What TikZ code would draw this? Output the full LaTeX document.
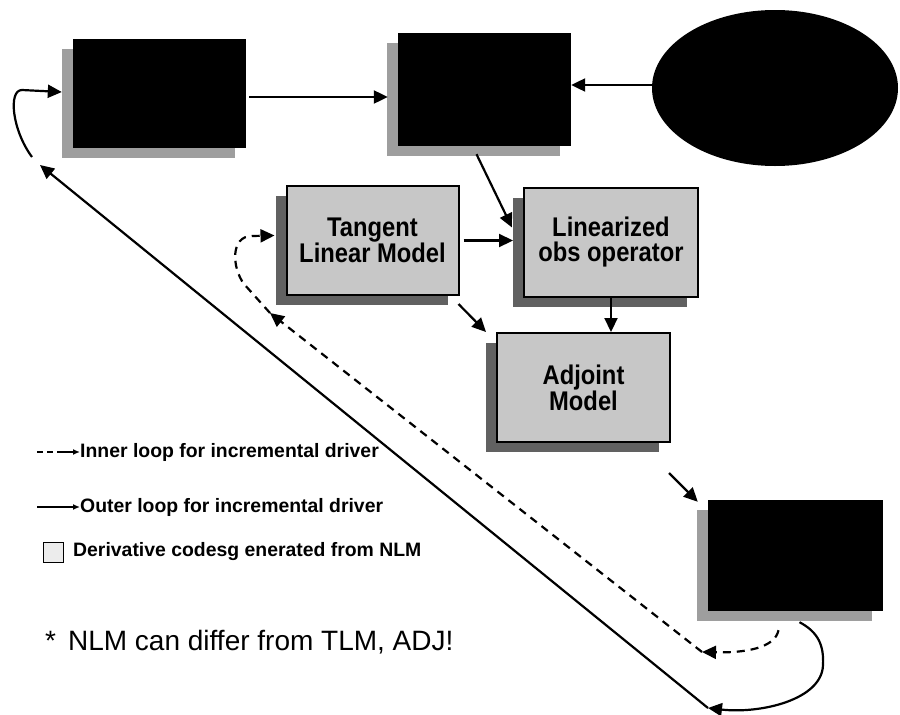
\documentclass[tikz,border=0pt]{standalone}
\usepackage{fontspec}
\setmainfont{Liberation Sans}
\newfontfamily\narrowbold{Liberation Sans}[FakeStretch=0.88]
\usetikzlibrary{arrows.meta, shapes.geometric, shadows}
\definecolor{boxgray}{gray}{0.78}
\definecolor{shadelight}{gray}{0.62}
\definecolor{shadedark}{gray}{0.38}
\tikzset{
    darkbox/.style={fill=black, minimum width=173pt, minimum height=109pt, inner sep=0pt,
        drop shadow={shadow xshift=-11pt, shadow yshift=-10pt, fill=shadelight, opacity=1}},
    lightbox/.style={draw, line width=2pt, fill=boxgray, minimum width=172pt,
        minimum height=109pt, align=center, inner sep=0pt,
        font=\narrowbold\bfseries\fontsize{27}{25}\selectfont,
        drop shadow={shadow xshift=-11pt, shadow yshift=-10pt, fill=shadedark, opacity=1}},
    conn/.style={-{Triangle[length=14pt, width=13pt]}, line width=2.2pt},
    innerloop/.style={conn, dash pattern=on 8pt off 6pt},
    keytext/.style={anchor=west, inner sep=0pt, font=\bfseries\fontsize{19.4}{20}\selectfont},
    keytip/.style={-{Latex[length=7pt, width=6pt]}, line width=2pt},
}
\begin{document}
\begin{tikzpicture}[x=1pt, y=-1pt]
    \useasboundingbox (0,0) rectangle (900,715);

    % Blocks
    \node[darkbox] (nlm) at (159.5,93) {};
    \node[darkbox, minimum height=113pt] (obs) at (484.5,89.5) {};
    \node[ellipse, fill=black, minimum width=246pt, minimum height=156pt, inner sep=0pt] (data) at (775,88) {};
    \node[lightbox] (tlm) at (372.5,240.5) {Tangent\\Linear Model};
    \node[lightbox, minimum width=174pt] (lin) at (611,242.5) {Linearized\\obs operator};
    \node[lightbox, minimum width=173pt] (adj) at (583.5,387.5) {Adjoint\\Model};
    \node[darkbox, minimum width=175pt, minimum height=111pt] (opt) at (795.5,555.5) {};

    % Forward arrows
    \draw[conn] ([shift={(3,4)}]nlm.east) -- ([shift={(-10,4)}]nlm.east -| obs.west);
    \draw[conn] ([yshift=3pt]data.west) -- ([yshift=3pt]data.west -| obs.east);
    \draw[conn] ([shift={(-8,8)}]obs.south) -- ([shift={(-11,-15)}]lin.west);
    \draw[conn] ([xshift=4pt]tlm.east) -- ([xshift=-10pt]tlm.east -| lin.west);
    \draw[conn] ([shift={(-1,8)}]tlm.south east) -- ([shift={(-10,0)}]adj.north west);
    \draw[conn] (lin.south) -- (lin.south |- adj.north);
    \draw[conn] ([shift={(-2,30)}]adj.south east) -- ([shift={(-10,2)}]opt.north west);

    % Inner loop
    \coordinate (inA) at (702,652);
    \coordinate (inB) at (270,313);
    \draw[innerloop] ([shift={(-17,19)}]opt.south) .. controls (775,648) and (745,653) .. (inA);
    \draw[innerloop] (inA) -- (inB);
    \draw[innerloop] (inB) -- (244,284) .. controls (232,268) and (230,236) .. (252,236)
        -- ([shift={(-11,-5)}]tlm.west);

    % Outer loop
    \coordinate (outA) at (708,708);
    \coordinate (outB) at (40,165);
    \draw[conn] ([shift={(4,11)}]opt.south) .. controls (818,632) and (824,645) .. (823,665)
        .. controls (822,700) and (760,714) .. (outA);
    \draw[conn] (outA) -- (outB);
    \draw[conn] ([shift={(-8,-8)}]outB) .. controls (12,130) and (8,90) .. (22,90)
        -- ([shift={(-11,-1)}]nlm.west);

    % Legend
    \node[keytext] (innerkey) at (80,452) {Inner loop for incremental driver};
    \draw[line width=2pt, dash pattern=on 6pt off 4pt] ([xshift=-43pt]innerkey.west) -- ([xshift=-18pt]innerkey.west);
    \draw[keytip] ([xshift=-18pt]innerkey.west) -- (innerkey.west);
    \node[keytext] (outerkey) at (80,507) {Outer loop for incremental driver};
    \draw[keytip] ([xshift=-43pt]outerkey.west) -- (outerkey.west);
    \node[keytext] (derivkey) at (73,552) {Derivative codesg enerated from NLM};
    \node[draw, line width=1pt, fill=gray!15, minimum size=20pt, inner sep=0pt] (keybox) at (53,552.5) {};
    \node[anchor=west, inner sep=0pt, font=\fontsize{28}{28}\selectfont] (note) at (45,642)
        {*\hspace{12pt}NLM can differ from TLM, ADJ!};
\end{tikzpicture}
\end{document}
